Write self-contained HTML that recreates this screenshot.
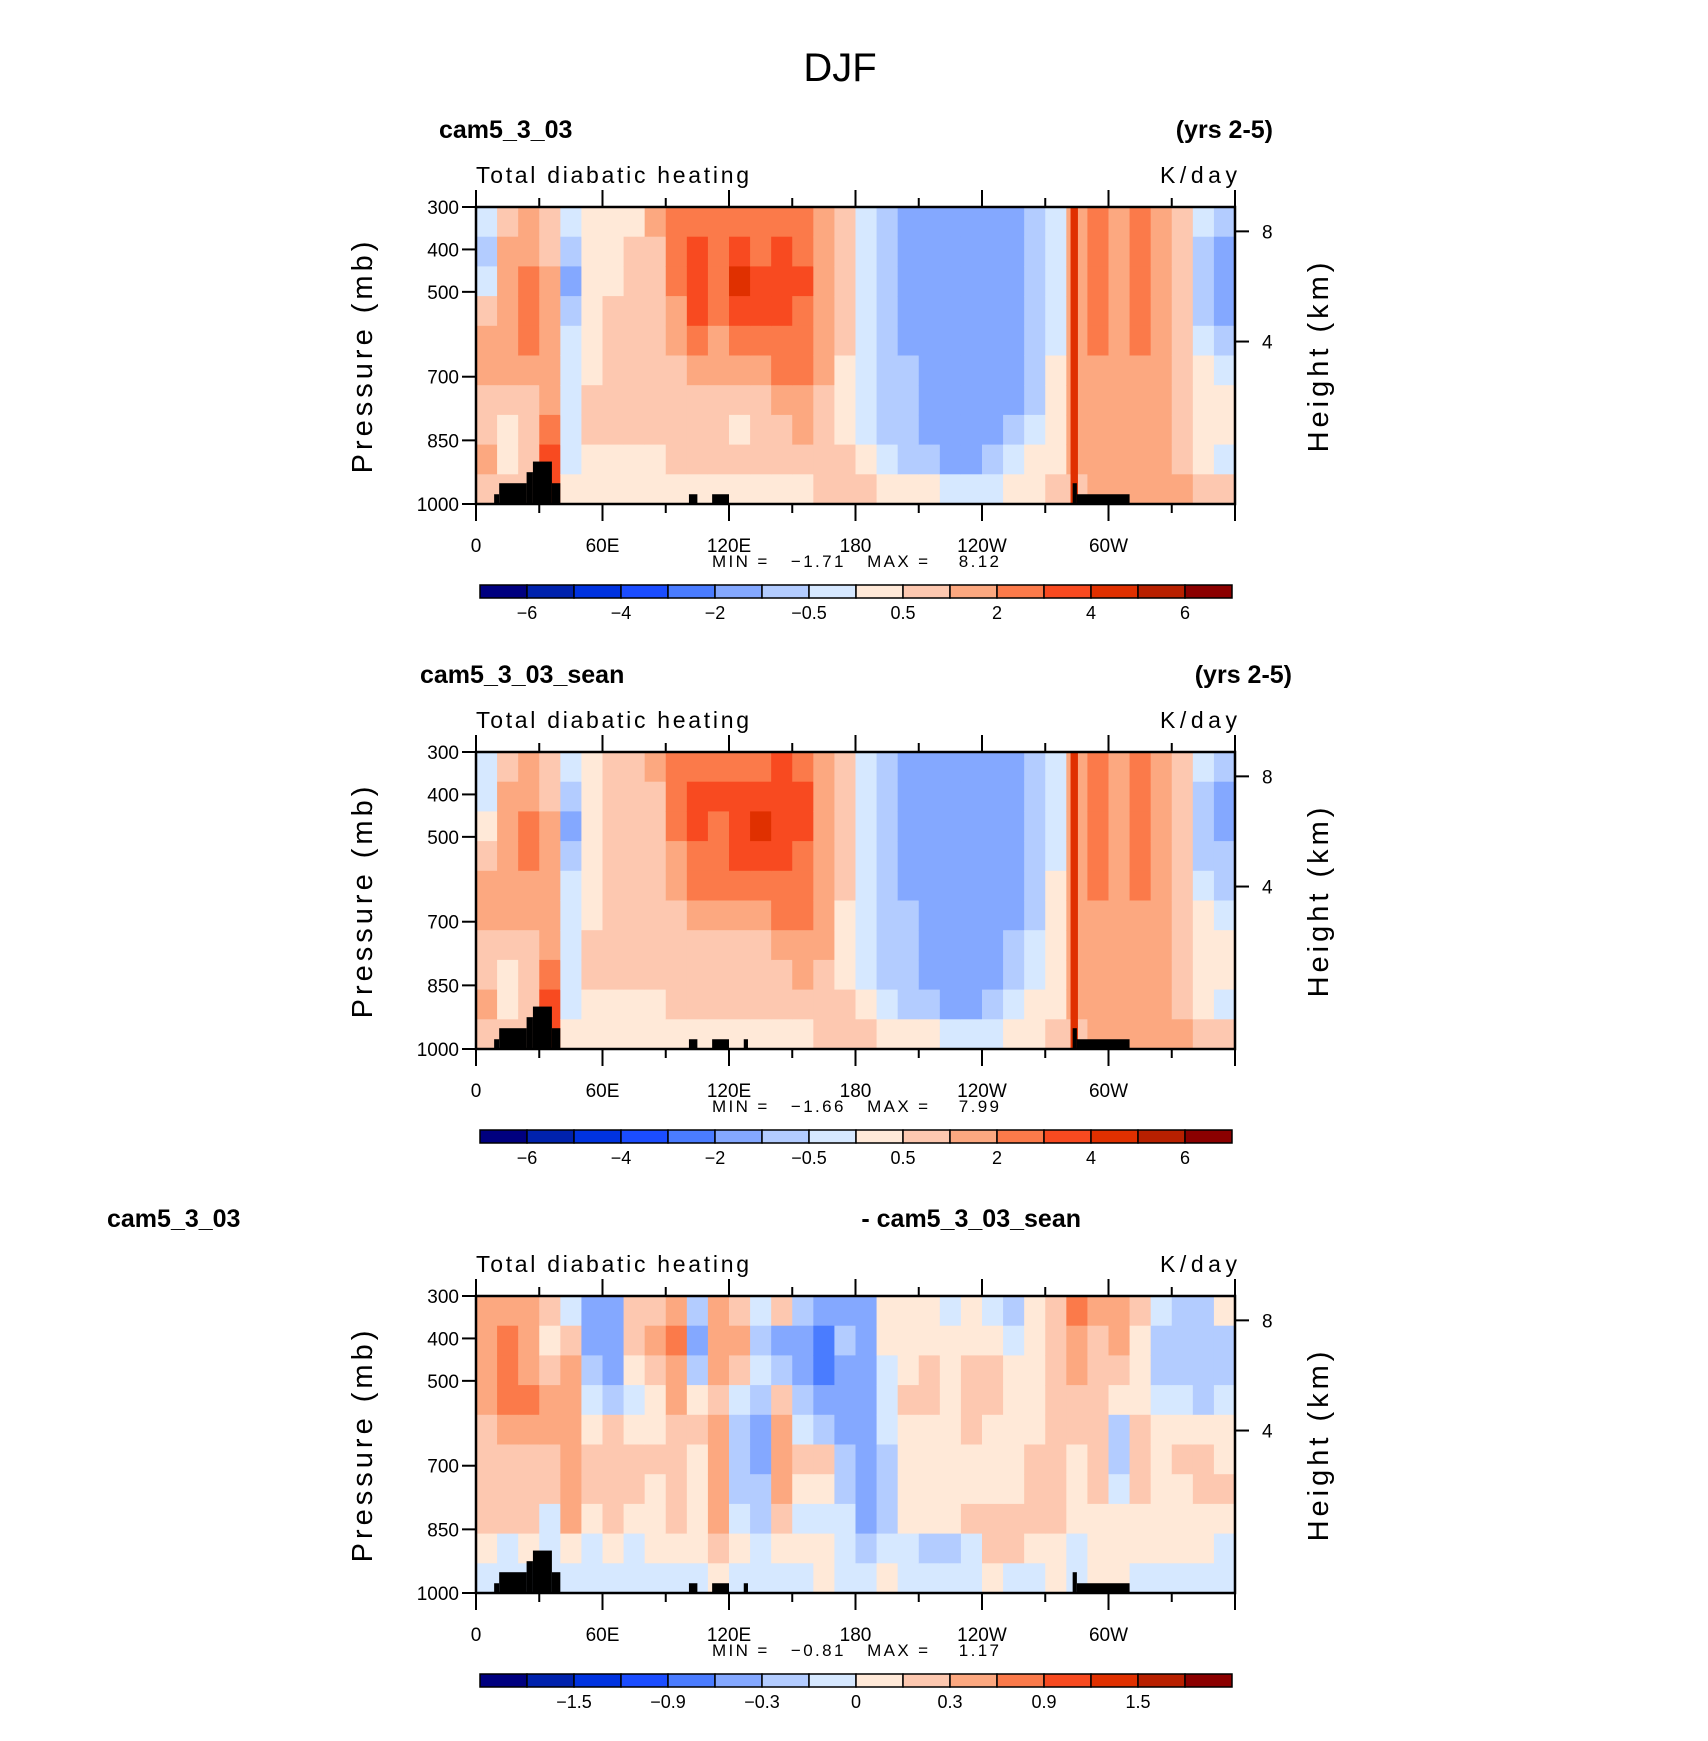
<!DOCTYPE html>
<html><head><meta charset="utf-8"><style>
html,body{margin:0;padding:0;background:#fff}
svg{display:block}
text{font-family:"Liberation Sans",sans-serif;fill:#000}
</style></head><body>
<svg id="svg" width="1708" height="1741" viewBox="0 0 1708 1741" xmlns="http://www.w3.org/2000/svg">
<text x="840" y="81" font-size="40" text-anchor="middle">DJF</text>
</svg>
<script>
// ---- data ----
const lonBins = [0,10,20,30,40,50,60,70,80,90,100,110,120,130,140,150,160,170,180,190,200,210,220,230,240,250,260,270,280,290,300,310,320,330,340,350];
const presEdges = [300,370,440,510,580,650,720,790,860,930,1000];
const xTickLons = [0,60,120,180,240,300];
const xTickLabels = ["0","60E","120E","180","120W","60W"];
const pTicks = [300,400,500,700,850,1000];
const hTicks = [8,4];
const hTickFrac = [0.082,0.453];
const levels1 = [-6,-5,-4,-3,-2,-1,-0.5,0,0.5,1,2,3,4,5,6];
const cbLabels1 = ["-6","-4","-2","-0.5","0.5","2","4","6"];
const levels3 = [-1.8,-1.5,-1.2,-0.9,-0.6,-0.3,-0.15,0,0.15,0.3,0.6,0.9,1.2,1.5,1.8];
const cbLabels3 = ["-1.5","-0.9","-0.3","0","0.3","0.9","1.5"];
const colors = ["#00007f","#0022ad","#0033e0","#1b4dff","#4a7cff","#84a8ff","#b3ccff","#d6e8ff","#ffe9d8","#fdc8b0","#fca880","#fb7a4a","#f84a20","#e03000","#b82000","#8b0000"];
// columns (per lon bin) of values top->bottom
const field1 = [
[-0.25,-0.75,-0.25,0.75,1.5,1.5,0.75,0.75,1.5,0.75],
[0.75,1.5,1.5,1.5,1.5,1.5,0.75,0.25,0.25,0.75],
[1.5,1.5,2.5,2.5,2.5,1.5,0.75,0.75,0.75,0.75],
[0.75,0.75,1.5,1.5,1.5,1.5,1.5,2.5,3.5,3.5],
[-0.25,-0.75,-1.5,-0.75,-0.25,-0.25,-0.25,-0.25,-0.25,0.25],
[0.25,0.25,0.25,0.25,0.25,0.25,0.75,0.75,0.25,0.25],
[0.25,0.25,0.25,0.75,0.75,0.75,0.75,0.75,0.25,0.25],
[0.25,0.75,0.75,0.75,0.75,0.75,0.75,0.75,0.25,0.25],
[1.5,0.75,0.75,0.75,0.75,0.75,0.75,0.75,0.25,0.25],
[2.5,2.5,2.5,1.5,1.5,0.75,0.75,0.75,0.75,0.25],
[2.5,3.5,3.5,3.5,2.5,1.5,0.75,0.75,0.75,0.25],
[2.5,2.5,2.5,2.5,1.5,1.5,0.75,0.75,0.75,0.25],
[2.5,3.5,4.5,3.5,2.5,1.5,0.75,0.25,0.75,0.25],
[2.5,2.5,3.5,3.5,2.5,1.5,0.75,0.75,0.75,0.25],
[2.5,3.5,3.5,3.5,2.5,2.5,1.5,0.75,0.75,0.25],
[2.5,2.5,3.5,2.5,2.5,2.5,1.5,1.5,0.75,0.25],
[1.5,1.5,1.5,1.5,1.5,1.5,0.75,0.75,0.75,0.75],
[0.75,0.75,0.75,0.75,0.75,0.25,0.25,0.25,0.75,0.75],
[-0.25,-0.25,-0.25,-0.25,-0.25,-0.25,-0.25,-0.25,0.25,0.75],
[-0.75,-0.75,-0.75,-0.75,-0.75,-0.75,-0.75,-0.75,-0.25,0.25],
[-1.5,-1.5,-1.5,-1.5,-1.5,-0.75,-0.75,-0.75,-0.75,0.25],
[-1.5,-1.5,-1.5,-1.5,-1.5,-1.5,-1.5,-1.5,-0.75,0.25],
[-1.5,-1.5,-1.5,-1.5,-1.5,-1.5,-1.5,-1.5,-1.5,-0.25],
[-1.5,-1.5,-1.5,-1.5,-1.5,-1.5,-1.5,-1.5,-1.5,-0.25],
[-1.5,-1.5,-1.5,-1.5,-1.5,-1.5,-1.5,-1.5,-0.75,-0.25],
[-1.5,-1.5,-1.5,-1.5,-1.5,-1.5,-1.5,-0.75,-0.25,0.25],
[-0.75,-0.75,-0.75,-0.75,-0.75,-0.75,-0.75,-0.25,0.25,0.25],
[-0.25,-0.25,-0.25,-0.25,-0.25,0.25,0.25,0.25,0.25,0.75],
[1.5,1.5,1.5,1.5,1.5,1.5,1.5,1.5,1.5,0.75],
[2.5,2.5,2.5,2.5,2.5,1.5,1.5,1.5,1.5,1.5],
[1.5,1.5,1.5,1.5,1.5,1.5,1.5,1.5,1.5,1.5],
[2.5,2.5,2.5,2.5,2.5,1.5,1.5,1.5,1.5,1.5],
[1.5,1.5,1.5,1.5,1.5,1.5,1.5,1.5,1.5,1.5],
[0.75,0.75,0.75,0.75,0.75,0.75,0.75,0.75,0.75,1.5],
[-0.25,-0.75,-0.75,-0.75,-0.25,0.25,0.25,0.25,0.25,0.75],
[-0.75,-1.5,-1.5,-1.5,-0.75,-0.25,0.25,0.25,-0.25,0.75]];
const field2 = [
[-0.25,-0.25,0.25,0.75,1.5,1.5,0.75,0.75,1.5,0.75],
[0.75,1.5,1.5,1.5,1.5,1.5,0.75,0.25,0.25,0.75],
[1.5,1.5,2.5,2.5,1.5,1.5,0.75,0.75,0.75,0.75],
[0.75,0.75,1.5,1.5,1.5,1.5,1.5,2.5,3.5,3.5],
[-0.25,-0.75,-1.5,-0.75,-0.25,-0.25,-0.25,-0.25,-0.25,0.25],
[0.25,0.25,0.25,0.25,0.25,0.25,0.75,0.75,0.25,0.25],
[0.75,0.75,0.75,0.75,0.75,0.75,0.75,0.75,0.25,0.25],
[0.75,0.75,0.75,0.75,0.75,0.75,0.75,0.75,0.25,0.25],
[1.5,0.75,0.75,0.75,0.75,0.75,0.75,0.75,0.25,0.25],
[2.5,2.5,2.5,1.5,1.5,0.75,0.75,0.75,0.75,0.25],
[2.5,3.5,3.5,2.5,2.5,1.5,0.75,0.75,0.75,0.25],
[2.5,3.5,2.5,2.5,2.5,1.5,0.75,0.75,0.75,0.25],
[2.5,3.5,3.5,3.5,2.5,1.5,0.75,0.75,0.75,0.25],
[2.5,3.5,4.5,3.5,2.5,1.5,0.75,0.75,0.75,0.25],
[3.5,3.5,3.5,3.5,2.5,2.5,1.5,0.75,0.75,0.25],
[2.5,3.5,3.5,2.5,2.5,2.5,1.5,1.5,0.75,0.25],
[1.5,1.5,1.5,1.5,1.5,1.5,1.5,0.75,0.75,0.75],
[0.75,0.75,0.75,0.75,0.75,0.25,0.25,0.25,0.75,0.75],
[-0.25,-0.25,-0.25,-0.25,-0.25,-0.25,-0.25,-0.25,0.25,0.75],
[-0.75,-0.75,-0.75,-0.75,-0.75,-0.75,-0.75,-0.75,-0.25,0.25],
[-1.5,-1.5,-1.5,-1.5,-1.5,-0.75,-0.75,-0.75,-0.75,0.25],
[-1.5,-1.5,-1.5,-1.5,-1.5,-1.5,-1.5,-1.5,-0.75,0.25],
[-1.5,-1.5,-1.5,-1.5,-1.5,-1.5,-1.5,-1.5,-1.5,-0.25],
[-1.5,-1.5,-1.5,-1.5,-1.5,-1.5,-1.5,-1.5,-1.5,-0.25],
[-1.5,-1.5,-1.5,-1.5,-1.5,-1.5,-1.5,-1.5,-0.75,-0.25],
[-1.5,-1.5,-1.5,-1.5,-1.5,-1.5,-0.75,-0.75,-0.25,0.25],
[-0.75,-0.75,-0.75,-0.75,-0.75,-0.75,-0.25,-0.25,0.25,0.25],
[-0.25,-0.25,-0.25,-0.25,0.25,0.25,0.25,0.25,0.25,0.75],
[1.5,1.5,1.5,1.5,1.5,1.5,1.5,1.5,1.5,0.75],
[2.5,2.5,2.5,2.5,2.5,1.5,1.5,1.5,1.5,1.5],
[1.5,1.5,1.5,1.5,1.5,1.5,1.5,1.5,1.5,1.5],
[2.5,2.5,2.5,2.5,2.5,1.5,1.5,1.5,1.5,1.5],
[1.5,1.5,1.5,1.5,1.5,1.5,1.5,1.5,1.5,1.5],
[0.75,0.75,0.75,0.75,0.75,0.75,0.75,0.75,0.75,1.5],
[-0.25,-0.75,-0.75,-0.75,-0.25,0.25,0.25,0.25,0.25,0.75],
[-0.75,-1.5,-1.5,-0.75,-0.75,-0.25,0.25,0.25,-0.25,0.75]];
const field3 = [
[0.45,0.45,0.45,0.45,0.22,0.22,0.22,0.22,0.07,-0.07],
[0.45,0.75,0.75,0.75,0.45,0.22,0.22,0.22,-0.07,-0.07],
[0.45,0.45,0.45,0.75,0.45,0.22,0.22,0.22,0.07,-0.07],
[0.22,0.07,0.22,0.45,0.45,0.22,0.22,-0.07,-0.07,-0.07],
[-0.07,0.22,0.45,0.45,0.45,0.45,0.45,0.45,0.07,-0.07],
[-0.45,-0.45,-0.22,-0.07,0.07,0.22,0.22,0.07,-0.07,-0.07],
[-0.45,-0.45,-0.45,-0.22,0.22,0.22,0.22,0.22,0.07,-0.07],
[0.22,0.22,0.07,-0.07,0.07,0.22,0.22,0.07,-0.07,-0.07],
[0.22,0.45,0.22,0.07,0.07,0.22,0.07,0.07,0.07,-0.07],
[0.45,0.75,0.45,0.45,0.22,0.22,0.22,0.22,0.07,-0.07],
[-0.22,-0.45,-0.22,0.07,0.22,0.07,0.07,0.07,0.07,-0.07],
[0.45,0.45,0.45,0.22,0.45,0.45,0.45,0.45,0.22,0.07],
[0.22,0.45,0.22,-0.07,-0.22,-0.22,-0.22,-0.07,0.07,-0.07],
[-0.07,-0.22,-0.07,-0.22,-0.45,-0.45,-0.22,-0.22,-0.07,-0.07],
[0.22,-0.45,-0.22,0.22,0.45,0.45,0.45,0.22,0.07,-0.07],
[-0.22,-0.45,-0.45,-0.22,-0.07,0.22,0.07,-0.07,0.07,-0.07],
[-0.45,-0.75,-0.75,-0.45,-0.22,0.22,0.07,-0.07,0.07,0.07],
[-0.45,-0.22,-0.45,-0.45,-0.45,-0.22,-0.22,-0.07,-0.07,-0.07],
[-0.45,-0.45,-0.45,-0.45,-0.45,-0.45,-0.45,-0.45,-0.22,-0.07],
[0.07,0.07,-0.07,-0.07,-0.07,-0.22,-0.22,-0.22,-0.07,0.07],
[0.07,0.07,0.07,0.22,0.07,0.07,0.07,0.07,-0.07,-0.07],
[0.07,0.07,0.22,0.22,0.07,0.07,0.07,0.07,-0.22,-0.07],
[-0.07,0.07,0.07,0.07,0.07,0.07,0.07,0.07,-0.22,-0.07],
[0.07,0.07,0.22,0.22,0.22,0.07,0.07,0.22,-0.07,-0.07],
[-0.07,0.07,0.22,0.22,0.07,0.07,0.07,0.22,0.22,0.07],
[-0.22,-0.07,0.07,0.07,0.07,0.07,0.07,0.22,0.22,-0.07],
[0.07,0.07,0.07,0.07,0.07,0.22,0.22,0.22,0.07,-0.07],
[0.22,0.22,0.22,0.22,0.22,0.22,0.22,0.22,0.07,0.07],
[0.75,0.45,0.45,0.22,0.22,0.07,0.07,0.07,-0.07,-0.07],
[0.45,0.22,0.22,0.22,0.22,0.22,0.22,0.07,0.07,0.07],
[0.45,0.45,0.22,0.07,-0.22,-0.22,-0.07,0.07,0.07,0.07],
[0.22,0.07,0.07,0.07,0.22,0.22,0.22,0.07,0.07,-0.07],
[-0.07,-0.22,-0.22,-0.07,0.07,0.07,0.07,0.07,0.07,-0.07],
[-0.22,-0.22,-0.22,-0.07,0.07,0.22,0.07,0.07,0.07,-0.07],
[-0.22,-0.22,-0.22,-0.22,0.07,0.22,0.22,0.07,0.07,-0.07],
[0.07,-0.22,-0.22,-0.07,0.07,0.07,0.22,0.07,-0.07,-0.07]];
// thin heating column near 77W
const ridgeLon = [282,285.5];
const ridgeVal = [4.5];
// terrain steps
const terrainLon0 = [8.6,11,24,27,36,101,112,285,283];
const terrainLon1 = [11,24,27,36,40,105,120,310,285];
const terrainTop = [977,951,925,900,951,977,977,977,951];
const extraTerrain2Lon = [127,129]; const extraTerrain2Top = [977];

const panels = [
 {off:0, left:"cam5_3_03", leftX:439, right:"(yrs 2-5)", rightX:1273, field:field1, levels:levels1, cb:cbLabels1, cbStart:1, min:"-1.71", max:"8.12", ridge:true, extra:false},
 {off:545, left:"cam5_3_03_sean", leftX:420, right:"(yrs 2-5)", rightX:1292, field:field2, levels:levels1, cb:cbLabels1, cbStart:1, min:"-1.66", max:"7.99", ridge:true, extra:true},
 {off:1089, left:"cam5_3_03", leftX:107, right:"- cam5_3_03_sean", rightX:1081, field:field3, levels:levels3, cb:cbLabels3, cbStart:2, min:"-0.81", max:"1.17", ridge:false, extra:true}
];
const svg = document.getElementById('svg');
const NS = "http://www.w3.org/2000/svg";
function mk(tag, attrs, parent){const e=document.createElementNS(NS,tag);for(const k in attrs)e.setAttribute(k,attrs[k]);(parent||svg).appendChild(e);return e;}
const X0=476, X1=1235, H=297;
function xs(lon){return X0+(lon/360)*(X1-X0);}
function colorFor(v,lev){let i=0;while(i<lev.length&&v>=lev[i])i++;return colors[i];}

panels.forEach((P,pi)=>{
  const Y0=207+P.off, Y1=Y0+H;
  const ys=p=>Y0+(p-300)/700*H;
  const g=mk('g',{});
  
  
  let t=mk('text',{x:P.leftX,y:138+P.off,'font-size':25,'font-weight':'bold'},g); t.textContent=P.left;
   
  t=mk('text',{x:P.rightX,y:138+P.off,'font-size':25,'font-weight':'bold','text-anchor':'end'},g); t.textContent=P.right;
   
  t=mk('text',{x:476,y:183+P.off,'font-size':23,textLength:273,lengthAdjust:'spacing'},g); t.textContent="Total diabatic heating";
   
  t=mk('text',{x:1160,y:183+P.off,'font-size':23,textLength:77,lengthAdjust:'spacing'},g); t.textContent="K/day";
   
  P.field.forEach((col,ci)=>{
    col.forEach((v,ri)=>{
      const x=xs(lonBins[ci]), w=xs(lonBins[ci]+10)-x+0.5;
      const y=ys(presEdges[ri]), h=ys(presEdges[ri+1])-y+0.5;
      const r=mk('rect',{x:x,y:y,width:w,height:h,fill:colorFor(v,P.levels)},g);
      
      
    });
  });
  if(P.ridge){
    const r=mk('rect',{x:xs(ridgeLon[0]),y:Y0,width:xs(ridgeLon[1])-xs(ridgeLon[0]),height:H,fill:colorFor(ridgeVal[0],P.levels)},g);
    
    
  }
  terrainLon0.forEach((l0,i)=>{
    const r=mk('rect',{x:xs(l0),y:ys(terrainTop[i]),width:xs(terrainLon1[i])-xs(l0),height:Y1-ys(terrainTop[i]),fill:'#000'},g);
    
    
  });
  if(P.extra){
    const r=mk('rect',{x:xs(extraTerrain2Lon[0]),y:ys(extraTerrain2Top[0]),width:xs(extraTerrain2Lon[1])-xs(extraTerrain2Lon[0]),height:Y1-ys(extraTerrain2Top[0]),fill:'#000'},g);
    
    
  }
  const fr=mk('rect',{x:X0,y:Y0,width:X1-X0,height:H,fill:'none',stroke:'#000','stroke-width':2.5},g);
   
  for(let lon=0;lon<=360;lon+=30){
    const major=lon%60===0, L=major?17:9, x=xs(lon);
    mk('line',{x1:x,x2:x,y1:Y1,y2:Y1+L,stroke:'#000','stroke-width':2},g);
    mk('line',{x1:x,x2:x,y1:Y0,y2:Y0-L,stroke:'#000','stroke-width':2},g);
  }
  xTickLons.forEach((lon,i)=>{
    const tt=mk('text',{x:xs(lon),y:552+P.off,'font-size':19,'text-anchor':'middle'},g); tt.textContent=xTickLabels[i];
     
  });
  pTicks.forEach(p=>{
    const y=ys(p);
    mk('line',{x1:X0-14,x2:X0,y1:y,y2:y,stroke:'#000','stroke-width':2},g);
    const tt=mk('text',{x:X0-17,y:y+7,'font-size':19,'text-anchor':'end'},g); tt.textContent=String(p);
     
  });
  hTicks.forEach((h,i)=>{
    const y=Y0+hTickFrac[i]*H;
    mk('line',{x1:X1,x2:X1+14,y1:y,y2:y,stroke:'#000','stroke-width':2},g);
    const tt=mk('text',{x:X1+27,y:y+7,'font-size':19},g); tt.textContent=String(h);
     
  });
  t=mk('text',{x:0,y:0,'font-size':29,'text-anchor':'middle','letter-spacing':4,transform:`translate(372 ${Y0+H/2}) rotate(-90)`},g); t.textContent="Pressure  (mb)";
   
  t=mk('text',{x:0,y:0,'font-size':29,'text-anchor':'middle','letter-spacing':4,transform:`translate(1328 ${Y0+H/2}) rotate(-90)`},g); t.textContent="Height  (km)";
   
  t=mk('text',{x:712,y:567+P.off,'font-size':17,style:'white-space:pre',textLength:287,lengthAdjust:'spacing'},g); t.textContent="MIN =   "+P.min.replace('-','\u2212')+"   MAX =    "+P.max;
   
  const cx0=480, cx1=1232, cw=(cx1-cx0)/16, cy=585+P.off;
  colors.forEach((c,i)=>{
    const r=mk('rect',{x:cx0+i*cw,y:cy,width:cw,height:13,fill:c,stroke:'#000','stroke-width':1.5},g);
     
  });
  P.cb.forEach((lab,i)=>{
    const tt=mk('text',{x:cx0+(P.cbStart+i*2)*cw,y:619+P.off,'font-size':18,'text-anchor':'middle'},g); tt.textContent=lab.replace('-','\u2212');
     
  });
});
</script>
</body></html>
